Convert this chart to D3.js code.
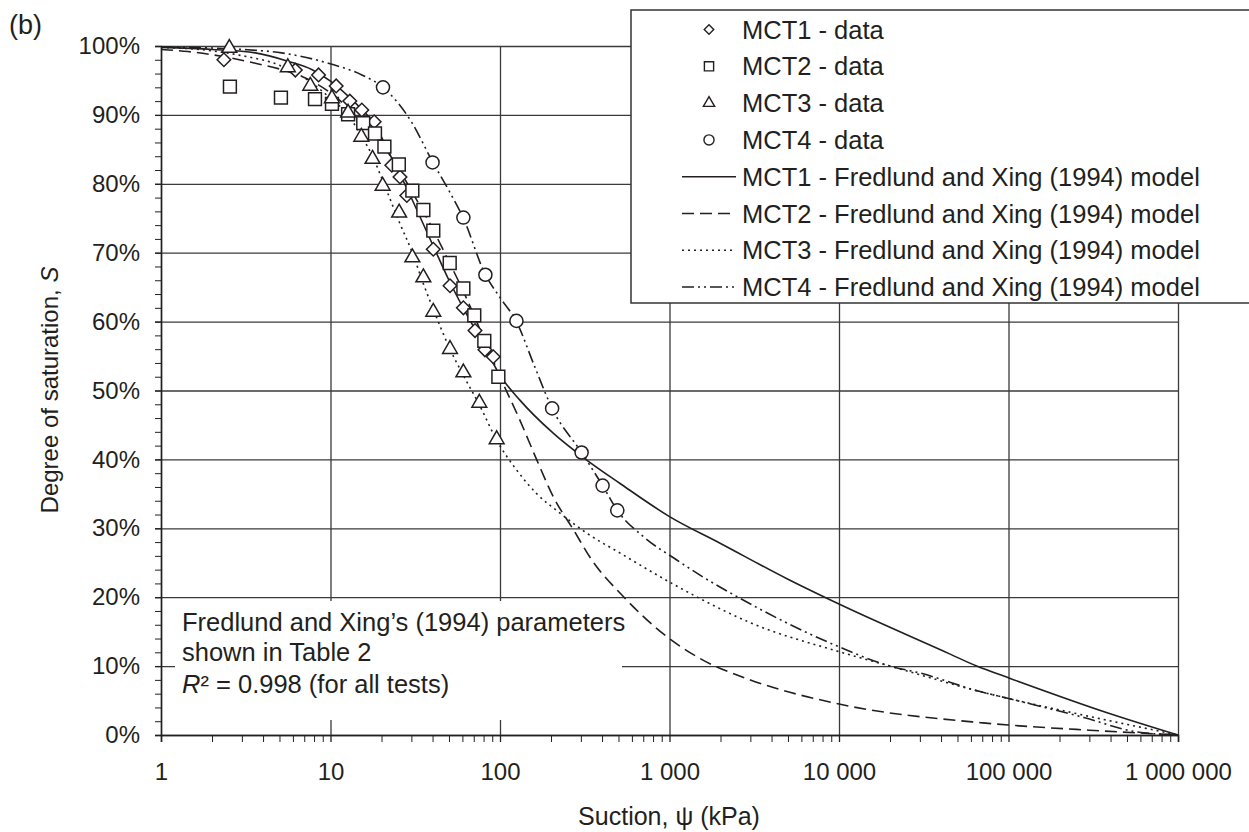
<!doctype html>
<html lang="en">
<head>
  <meta charset="utf-8">
  <title>SWCC MCT</title>
  <style>
    * { margin: 0; padding: 0; box-sizing: border-box; }
    body { background: #fff; }
    svg text { font-family: "Liberation Sans", Arial, sans-serif; fill: #231f20; }
  </style>
</head>
<body>
  <div id="container"></div>
  <script src="https://cdn.jsdelivr.net/npm/d3@7"></script>
  <script>
    // measured points (suction kPa, degree of saturation)
    const mct1Data = [[2.35,0.98],[6.2,0.965],[8.5,0.958],[10.8,0.942],[13,0.92],[15.3,0.907],[18.1,0.89],[23,0.827],[25.7,0.81],[28.2,0.783],[40.4,0.705],[50.7,0.652],[60.8,0.62],[71.2,0.587],[81.5,0.559],[91.3,0.549]];
    const mct2Data = [[2.55,0.941],[5.1,0.925],[8.1,0.923],[10.2,0.916],[12.7,0.901],[15.6,0.888],[18.3,0.873],[20.8,0.854],[25.3,0.828],[30.4,0.79],[35.3,0.762],[40.4,0.732],[50.5,0.685],[60.8,0.648],[70.5,0.609],[80.8,0.572],[97.8,0.52]];
    const mct3Data = [[2.53,0.997],[5.6,0.969],[7.6,0.942],[10.2,0.924],[12.7,0.903],[15.2,0.868],[17.7,0.836],[20.3,0.797],[25.4,0.758],[30.4,0.693],[35.3,0.664],[40.4,0.614],[50.7,0.56],[60.8,0.526],[75.5,0.482],[95.6,0.429]];
    const mct4Data = [[20.4,0.94],[40,0.831],[60.8,0.751],[82,0.668],[125,0.601],[203,0.474],[303,0.41],[403,0.362],[492,0.326]];

    // Fredlund and Xing (1994) fitted curves
    const mct1Model = [[1,0.998],[2,0.995],[3.6,0.99],[5.6,0.978],[7.75,0.966],[10,0.949],[13,0.925],[15,0.91],[18,0.888],[23,0.837],[28,0.795],[40,0.712],[50,0.66],[60,0.622],[70,0.592],[80,0.566],[100,0.522],[131,0.486],[206,0.438],[325,0.399],[511,0.365],[1000,0.317],[2000,0.278],[5000,0.226],[10000,0.19],[45600,0.117],[64900,0.1],[100000,0.083],[386000,0.032],[1000000,0]];
    const mct2Model = [[1,0.995],[1.44,0.992],[2.28,0.985],[3.6,0.975],[5.6,0.963],[7.75,0.949],[10,0.932],[12.7,0.91],[15.6,0.888],[20,0.858],[25,0.824],[30,0.79],[40,0.735],[50,0.687],[60,0.647],[70,0.61],[80,0.576],[100,0.52],[131,0.457],[165,0.399],[206,0.346],[271,0.298],[348,0.254],[534,0.201],[962,0.143],[1514,0.111],[3000,0.08],[10000,0.045],[68000,0.018],[100000,0.0145],[300000,0.007],[1000000,0]];
    const mct3Model = [[1,0.998],[2,0.993],[3,0.986],[5,0.972],[7.6,0.948],[10,0.924],[12.7,0.9],[15,0.872],[17.7,0.84],[20.3,0.805],[25.4,0.745],[30.4,0.7],[35.3,0.655],[40.4,0.618],[50.7,0.56],[60.8,0.522],[76,0.478],[95.5,0.428],[125,0.385],[165,0.35],[226,0.322],[325,0.293],[511,0.264],[1000,0.222],[1514,0.198],[3000,0.163],[10000,0.121],[20000,0.1],[68000,0.063],[100000,0.053],[300000,0.027],[1000000,0]];
    const mct4Model = [[1,0.999],[2,0.997],[3,0.995],[5.15,0.99],[9.7,0.975],[15.3,0.958],[20.4,0.94],[30,0.89],[40,0.832],[50,0.79],[60.8,0.75],[82,0.668],[100,0.635],[125,0.6],[160,0.535],[203,0.474],[303,0.41],[403,0.362],[492,0.326],[701,0.288],[1104,0.254],[1514,0.232],[2494,0.201],[10000,0.128],[20000,0.1],[30000,0.09],[68000,0.063],[100000,0.053],[282000,0.025],[557000,0.005],[1000000,0]];

    const xTickValues = [1, 10, 100, 1000, 10000, 100000, 1000000];
    const xTickLabels = ['1', '10', '100', '1 000', '10 000', '100 000', '1 000 000'];
    const yTickValues = [0, 0.1, 0.2, 0.3, 0.4, 0.5, 0.6, 0.7, 0.8, 0.9, 1];
    const yTickLabels = ['0%', '10%', '20%', '30%', '40%', '50%', '60%', '70%', '80%', '90%', '100%'];
    const yMinorValues = d3.range(0, 1.001, 0.02);

    const legendItems = [
      { label: 'MCT1 - data', kind: 'sym', sym: 'diamond' },
      { label: 'MCT2 - data', kind: 'sym', sym: 'square' },
      { label: 'MCT3 - data', kind: 'sym', sym: 'triangle' },
      { label: 'MCT4 - data', kind: 'sym', sym: 'circle' },
      { label: 'MCT1 - Fredlund and Xing (1994) model', kind: 'line', dash: null },
      { label: 'MCT2 - Fredlund and Xing (1994) model', kind: 'line', dash: '12,6' },
      { label: 'MCT3 - Fredlund and Xing (1994) model', kind: 'line', dash: '2,4' },
      { label: 'MCT4 - Fredlund and Xing (1994) model', kind: 'line', dash: '12,4,2,4,2,4' }
    ];

    const ink = '#231f20';
    const W = 1249, H = 832;
    const pLeft = 161, pRight = 1178, pTop = 46, pBottom = 735;

    const svg = d3.select('#container').append('svg').attr('width', W).attr('height', H);

    const x = d3.scaleLog().domain([1, 1e6]).range([pLeft, pRight]);
    const y = d3.scaleLinear().domain([0, 1]).range([pBottom, pTop]);

    // grid
    const gx = svg.append('g').attr('transform', `translate(0,${pBottom})`)
      .call(d3.axisBottom(x).tickValues(xTickValues).tickSize(-(pBottom - pTop)).tickFormat(''));
    gx.select('.domain').remove();
    gx.selectAll('line').attr('stroke', '#3a3a3a').attr('stroke-width', 1.3);

    const gy = svg.append('g').attr('transform', `translate(${pLeft},0)`)
      .call(d3.axisLeft(y).tickValues(yTickValues).tickSize(-(pRight - pLeft)).tickFormat(''));
    gy.select('.domain').remove();
    gy.selectAll('line').attr('stroke', '#3a3a3a').attr('stroke-width', 1.3);

    // minor ticks
    const xMinor = x.ticks().filter(v => !xTickValues.includes(v));
    const mx = svg.append('g').attr('transform', `translate(0,${pBottom})`)
      .call(d3.axisBottom(x).tickValues(xMinor).tickSize(7).tickFormat(''));
    mx.select('.domain').remove();
    const my = svg.append('g').attr('transform', `translate(${pLeft},0)`)
      .call(d3.axisLeft(y).tickValues(yMinorValues).tickSize(6).tickFormat(''));
    my.select('.domain').remove();
    mx.selectAll('line').attr('stroke', ink);
    my.selectAll('line').attr('stroke', ink);

    // note box (white panel over the grid)
    svg.append('rect').attr('x', 175).attr('y', 601).attr('width', 447).attr('height', 119).attr('fill', '#fff');
    const note = svg.append('text').attr('font-size', 25.5);
    note.append('tspan').attr('x', 182).attr('y', 631).text('Fredlund and Xing\u2019s (1994) parameters');
    note.append('tspan').attr('x', 182).attr('y', 661).text('shown in Table 2');
    note.append('tspan').attr('font-style', 'italic').attr('x', 182).attr('y', 693).text('R');
    note.append('tspan').text('\u00b2 = 0.998 (for all tests)');

    // major axes with labels
    const ax = svg.append('g').attr('transform', `translate(0,${pBottom})`)
      .call(d3.axisBottom(x).tickValues(xTickValues).tickSize(7).tickPadding(21)
        .tickFormat((d, i) => xTickLabels[i]));
    const ay = svg.append('g').attr('transform', `translate(${pLeft},0)`)
      .call(d3.axisLeft(y).tickValues(yTickValues).tickSize(6).tickPadding(15)
        .tickFormat((d, i) => yTickLabels[i]));
    [ax, ay].forEach(g => {
      g.selectAll('.domain').attr('stroke', ink).attr('stroke-width', 1.5);
      g.selectAll('line').attr('stroke', ink).attr('stroke-width', 1.3);
      g.selectAll('text').attr('font-size', 24).attr('font-family', '"Liberation Sans", Arial, sans-serif').attr('fill', ink);
    });

    // model curves
    const line = d3.line().x(d => x(d[0])).y(d => y(d[1])).curve(d3.curveMonotoneX);
    const models = [
      { data: mct1Model, dash: null },
      { data: mct2Model, dash: '12,6' },
      { data: mct3Model, dash: '2,4' },
      { data: mct4Model, dash: '12,4,2,4,2,4' }
    ];
    svg.append('g').selectAll('path').data(models).join('path')
      .attr('d', d => line(d.data))
      .attr('fill', 'none').attr('stroke', ink).attr('stroke-width', 1.6)
      .attr('stroke-dasharray', d => d.dash);

    // markers
    const symbolFor = {
      diamond: d3.symbol().type(d3.symbolSquare).size(92),
      square: d3.symbol().type(d3.symbolSquare).size(165),
      triangle: d3.symbol().type(d3.symbolTriangle).size(95),
      circle: d3.symbol().type(d3.symbolCircle).size(135)
    };
    const series = [
      { data: mct1Data, sym: 'diamond' },
      { data: mct2Data, sym: 'square' },
      { data: mct3Data, sym: 'triangle' },
      { data: mct4Data, sym: 'circle' }
    ];
    series.forEach(s => {
      svg.append('g').selectAll('path').data(s.data).join('path')
        .attr('d', symbolFor[s.sym]())
        .attr('transform', d => `translate(${x(d[0])},${y(d[1])})` + (s.sym === 'diamond' ? ' rotate(45)' : ''))
        .attr('fill', '#fff').attr('stroke', ink).attr('stroke-width', 1.5);
    });

    // legend
    const lg = svg.append('g');
    lg.append('rect').attr('x', 631).attr('y', 10).attr('width', 640).attr('height', 293)
      .attr('fill', '#fff').attr('stroke', '#333').attr('stroke-width', 1.5);
    const legendSym = {
      diamond: d3.symbol().type(d3.symbolSquare).size(45),
      square: d3.symbol().type(d3.symbolSquare).size(85),
      triangle: d3.symbol().type(d3.symbolTriangle).size(55),
      circle: d3.symbol().type(d3.symbolCircle).size(80)
    };
    legendItems.forEach((it, i) => {
      const cy = 29.5 + i * 36.8;
      if (it.kind === 'sym') {
        lg.append('path').attr('d', legendSym[it.sym]())
          .attr('transform', `translate(709,${cy})` + (it.sym === 'diamond' ? ' rotate(45)' : ''))
          .attr('fill', '#fff').attr('stroke', ink).attr('stroke-width', 1.4);
      } else {
        lg.append('line').attr('x1', 682).attr('x2', 736).attr('y1', cy).attr('y2', cy)
          .attr('stroke', ink).attr('stroke-width', 1.5).attr('stroke-dasharray', it.dash);
      }
      lg.append('text').attr('x', 742).attr('y', cy + 9).attr('font-size', 25.5).text(it.label);
    });

    // titles
    svg.append('text').attr('x', 669).attr('y', 825).attr('text-anchor', 'middle').attr('font-size', 25)
      .text('Suction, \u03c8 (kPa)');
    const yt = svg.append('text').attr('transform', 'translate(58,390) rotate(-90)')
      .attr('text-anchor', 'middle').attr('font-size', 24);
    yt.append('tspan').text('Degree of saturation, ');
    yt.append('tspan').attr('font-style', 'italic').text('S');
    svg.append('text').attr('x', 9).attr('y', 34).attr('font-size', 27).text('(b)');
  </script>
</body>
</html>
